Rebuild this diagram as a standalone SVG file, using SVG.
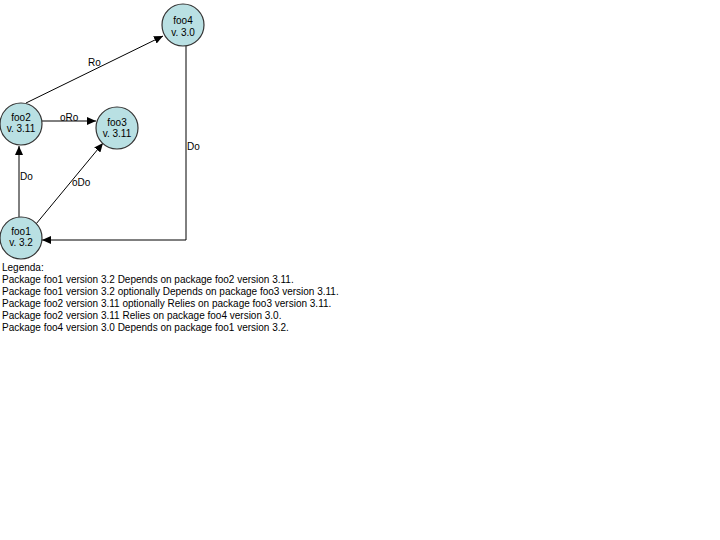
<svg xmlns="http://www.w3.org/2000/svg" width="720" height="540" viewBox="0 0 720 540">
<style>
text{font-family:"Liberation Sans",Arial,sans-serif;font-size:10px;fill:#000}
.n circle{fill:#b9e0e3;stroke:#333;stroke-width:1.2}
.n text{text-anchor:middle}
.e{fill:none;stroke:#000;stroke-width:1;marker-end:url(#a)}
</style>
<defs>
<marker id="a" markerUnits="userSpaceOnUse" markerWidth="10" markerHeight="8" refX="9" refY="4" orient="auto">
<path d="M0,0 L9,4 L0,8 z" fill="#000"/>
</marker>
</defs>
<rect width="720" height="540" fill="#fff"/>
<g id="connectors">
<line class="e" x1="19" y1="217" x2="19" y2="146"/>
<line class="e" x1="36" y1="224" x2="103" y2="143"/>
<line class="e" x1="42" y1="121" x2="96" y2="121"/>
<line class="e" x1="26" y1="103" x2="163" y2="36"/>
<path class="e" d="M186,46 V240 H42"/>
<text x="20" y="180">Do</text>
<text x="72" y="186">oDo</text>
<text x="60" y="121">oRo</text>
<text x="88" y="66">Ro</text>
<text x="187" y="150">Do</text>
</g>
<g id="foo4" class="n"><circle cx="183" cy="25" r="21"/><text x="183" y="24">foo4</text><text x="183" y="36">v. 3.0</text></g>
<g id="foo2" class="n"><circle cx="21" cy="124" r="21"/><text x="21" y="121">foo2</text><text x="21" y="132">v. 3.11</text></g>
<g id="foo3" class="n"><circle cx="117" cy="128" r="21"/><text x="117" y="126">foo3</text><text x="117" y="137">v. 3.11</text></g>
<g id="foo1" class="n"><circle cx="21" cy="238" r="21"/><text x="21" y="235">foo1</text><text x="21" y="246">v. 3.2</text></g>
<g id="legend">
<text x="2" y="271">Legenda:</text>
<text x="2" y="283">Package foo1 version 3.2 Depends on package foo2 version 3.11.</text>
<text x="2" y="295">Package foo1 version 3.2 optionally Depends on package foo3 version 3.11.</text>
<text x="2" y="307">Package foo2 version 3.11 optionally Relies on package foo3 version 3.11.</text>
<text x="2" y="319">Package foo2 version 3.11 Relies on package foo4 version 3.0.</text>
<text x="2" y="331">Package foo4 version 3.0 Depends on package foo1 version 3.2.</text>
</g>
</svg>
